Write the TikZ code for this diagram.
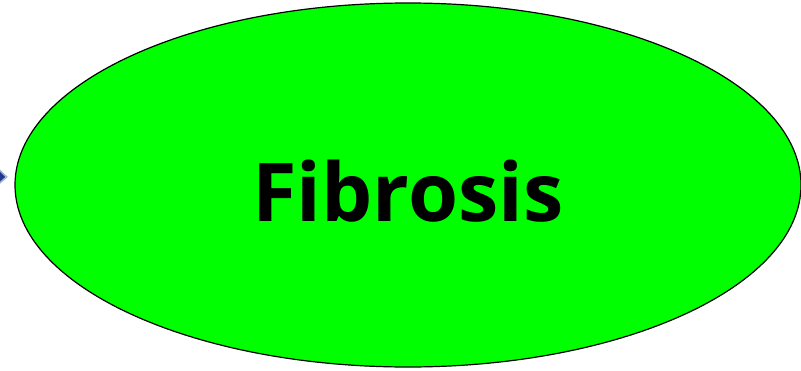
\documentclass[tikz,border=0pt]{standalone}
\usepackage{fontspec}
\setsansfont{Open Sans}
\usetikzlibrary{arrows.meta, positioning, shapes.geometric}
\definecolor{fbgreen}{HTML}{00FF00}
\definecolor{fbblue}{HTML}{1F3A8F}
\definecolor{fbedge}{HTML}{A9B4CC}

\begin{document}
\begin{tikzpicture}[x=1pt, y=-1pt,
      every node/.style={font=\sffamily\bfseries, align=center},
      blob/.style={ellipse, draw, line width=1.2pt, fill=fbgreen, minimum width=786pt, minimum height=364pt, inner sep=0pt},
      arr/.style={-{Triangle[length=10pt, width=18pt, fill=fbblue]}, draw=fbedge, line width=1.6pt}
    ]
    \useasboundingbox (0,0) rectangle (801,370);
    \node[blob] (fib) at (408,185) {};
    \node[font=\fontsize{81}{90}\sffamily\bfseries] (lbl) at ([yshift=-6pt]fib.center) {Fibrosis};

    \coordinate (src) at (-40,176);
    \draw[arr, shorten >=7pt] (src) -- (fib);
  \end{tikzpicture}
\end{document}
